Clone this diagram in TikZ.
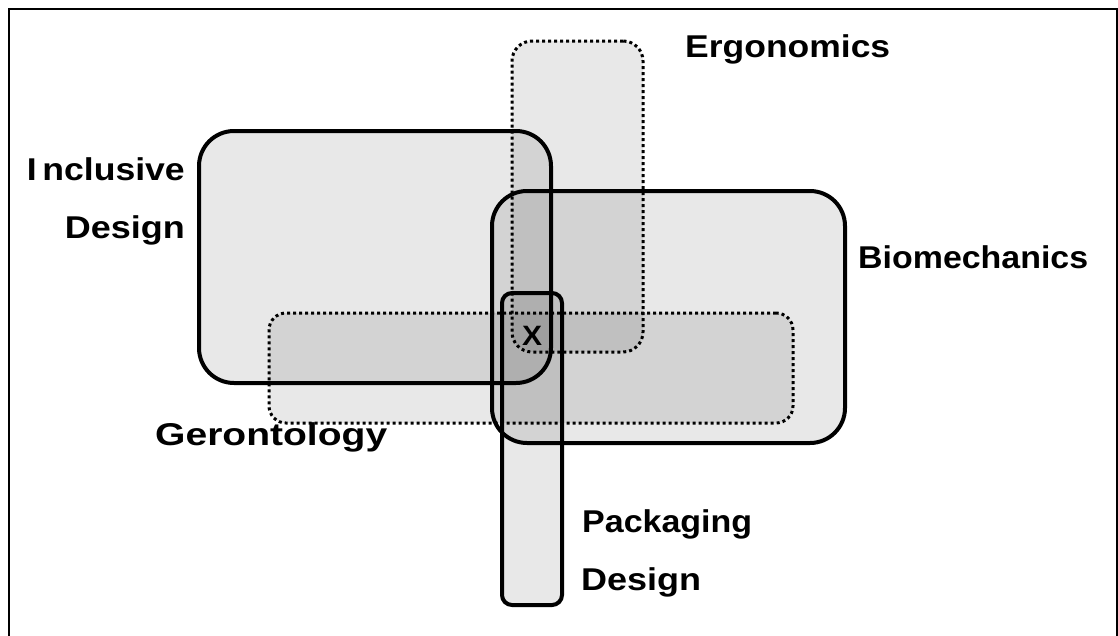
\documentclass[tikz,border=0pt]{standalone}
\usepackage{fontspec}
\usepackage{graphicx}
\newfontfamily\labfont{Liberation Sans}
% stretch a label horizontally to a given width, keeping its height
\newcommand\fitto[2]{\resizebox{#1}{\height}{#2}}
\tikzset{
  area/.style={fill=black, fill opacity=0.09, inner sep=0pt, outer sep=0pt},
  firm/.style={area, draw=black, line width=4pt},
  loose/.style={area, draw=black, line width=3pt, dash pattern=on 3pt off 3pt},
  lab/.style={anchor=base west, inner sep=0pt, font=\labfont\bfseries\fontsize{31.5}{36}\selectfont}
}
\begin{document}
\begin{tikzpicture}[x=1pt, y=-1pt]
  \useasboundingbox (0,0) rectangle (1118,635);
  % outer frame (open at the bottom)
  \draw[line width=2pt] (9,640) -- (9,9) -- (1117,9) -- (1117,640);

  % overlapping fields
  \node[firm, rounded corners=10pt, minimum width=60pt, minimum height=312pt] (pack) at (532,449) {};
  \node[firm, rounded corners=35pt, minimum width=353pt, minimum height=252pt] (bio) at (668.5,317) {};
  \node[firm, rounded corners=35pt, minimum width=352pt, minimum height=252pt] (incl) at (375,257) {};
  \node[loose, rounded corners=17pt, minimum width=524pt, minimum height=110pt] (geron) at (531,368) {};
  \node[loose, rounded corners=20pt, minimum width=131pt, minimum height=311pt] (ergo) at (577.5,196.5) {};

  % labels
  \node[lab] (tergo) at (685,57) {\fitto{205pt}{Ergonomics}};
  \node[lab, anchor=base east] (tincl) at (185,180) {\fitto{158pt}{I\kern5pt nclusive}};
  \node[lab, anchor=base east] (tincld) at (185,238) {\fitto{120pt}{Design}};
  \node[lab] (tbio) at (858,268) {\fitto{230pt}{Biomechanics}};
  \node[lab] (tgeron) at (155,445) {\fitto{232pt}{Gerontology}};
  \node[lab] (tpack) at (582,532) {\fitto{170pt}{Packaging}};
  \node[lab] (tpackd) at (581,590) {\fitto{120pt}{Design}};
  \node[lab, anchor=center, font=\labfont\bfseries\fontsize{28}{32}\selectfont] (tx) at (532,336) {\fitto{20pt}{X}};
\end{tikzpicture}
\end{document}
